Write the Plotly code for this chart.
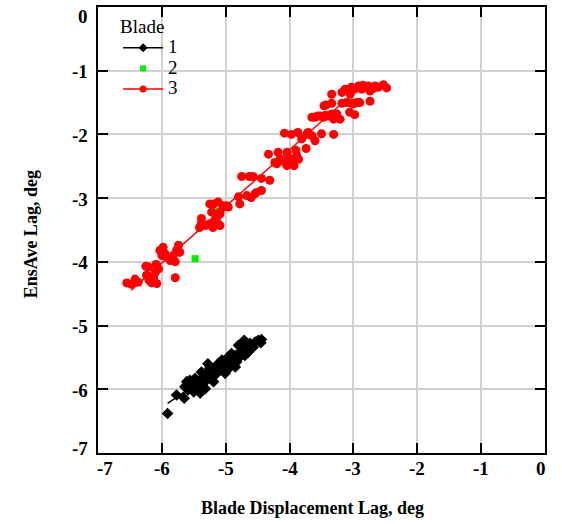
import numpy as np
import plotly.graph_objects as go

# Blade 1: displacement lag vs ensemble-average lag (deg)
blade1_x = [-5.91, -5.77, -5.65, -5.59, -5.61, -5.53, -5.48, -5.45, -5.40, -5.38,
            -5.32, -5.35, -5.30, -5.27, -5.28, -5.22, -5.19, -5.17, -5.14, -5.12,
            -5.09, -5.04, -5.01, -4.98, -4.96, -4.93, -4.88, -4.85, -4.83, -4.80,
            -4.75, -4.71, -4.70, -4.67, -4.62, -4.54, -4.49, -4.44, -4.45, -4.57,
            -5.43, -5.50, -5.56, -5.64, -5.06, -4.91, -4.78, -5.01, -5.25, -5.38,
            -4.85, -5.46, -5.20, -5.10, -4.95, -5.58, -5.33, -4.65]
blade1_y = [-6.38, -6.09, -6.14, -6.01, -5.88, -5.93, -5.83, -5.96, -6.06, -5.91,
            -5.99, -5.80, -5.86, -5.73, -5.60, -5.80, -5.88, -5.67, -5.75, -5.60,
            -5.70, -5.65, -5.57, -5.70, -5.49, -5.62, -5.54, -5.47, -5.57, -5.31,
            -5.39, -5.23, -5.47, -5.36, -5.28, -5.26, -5.23, -5.22, -5.27, -5.34,
            -5.91, -6.04, -5.86, -5.96, -5.54, -5.44, -5.49, -5.75, -5.67, -5.73,
            -5.65, -5.88, -5.72, -5.66, -5.58, -5.95, -5.82, -5.42]

# Blade 2
blade2_x = [-5.48, -5.15]
blade2_y = [-3.95, -3.20]

# Blade 3
blade3_x = [-6.48, -6.42, -6.37, -6.24, -6.20, -6.16, -6.13, -6.08, -6.10, -6.21,
            -6.25, -6.09, -6.05, -6.03, -5.98, -5.95, -5.92, -5.87, -5.82, -5.79,
            -5.77, -5.74, -5.72, -5.79, -5.38, -5.41, -5.32, -5.25, -5.20, -5.17,
            -5.12, -5.14, -5.09, -5.22, -5.25, -5.04, -4.98, -5.09, -6.00, -6.55,
            -5.38, -5.19, -5.12, -5.04, -4.96, -5.09, -5.14, -4.78, -4.80, -4.67,
            -4.60, -4.54, -4.52, -4.44, -4.75, -4.63, -4.57, -4.44, -4.31, -4.33,
            -4.23, -4.20, -4.18, -4.15, -4.07, -4.04, -4.02, -4.04, -3.98, -3.90,
            -3.89, -3.86, -3.93, -3.74, -4.08, -3.97, -3.87, -3.81, -3.73, -3.71,
            -3.65, -3.60, -3.50, -3.31, -3.65, -3.60, -3.52, -3.47, -3.39, -3.34,
            -3.26, -3.21, -3.31, -3.06, -2.98, -3.43, -3.34, -3.18, -3.11, -3.03,
            -2.95, -2.90, -2.74, -3.34, -3.18, -3.13, -3.07, -3.03, -2.98, -2.92,
            -2.87, -2.82, -2.77, -2.71, -2.74, -2.66, -2.61, -2.53, -2.48, -3.05,
            -3.46, -3.08, -2.85, -3.56, -3.44, -3.00, -2.80, -2.69]
blade3_y = [-4.35, -4.27, -4.32, -4.21, -4.29, -4.33, -4.25, -4.34, -4.16, -4.08,
            -4.07, -4.04, -4.11, -3.82, -3.77, -3.87, -3.93, -3.98, -3.90, -4.00,
            -3.82, -3.74, -3.85, -4.25, -3.39, -3.46, -3.43, -3.40, -3.46, -3.35,
            -3.40, -3.30, -3.25, -3.22, -3.09, -3.14, -3.12, -3.43, -3.90, -4.33,
            -3.32, -3.09, -3.06, -3.12, -3.14, -3.22, -3.27, -3.09, -2.98, -2.96,
            -2.99, -2.93, -2.91, -2.88, -2.66, -2.66, -2.66, -2.69, -2.72, -2.31,
            -2.44, -2.46, -2.28, -2.39, -2.44, -2.49, -2.36, -2.28, -2.41, -2.25,
            -2.33, -2.39, -2.49, -2.22, -1.98, -2.00, -1.97, -2.07, -2.00, -1.97,
            -2.02, -2.10, -1.99, -2.00, -1.73, -1.73, -1.71, -1.73, -1.71, -1.68,
            -1.68, -1.76, -1.76, -1.65, -1.69, -1.54, -1.51, -1.51, -1.50, -1.51,
            -1.50, -1.50, -1.48, -1.37, -1.34, -1.29, -1.32, -1.26, -1.29, -1.24,
            -1.29, -1.26, -1.24, -1.26, -1.32, -1.24, -1.26, -1.22, -1.27, -1.37,
            -1.55, -1.30, -1.23, -1.71, -1.70, -1.52, -1.25, -1.28]

# Linear trend for blade 3: slope, intercept and x extent of the drawn segment
blade3_trend = (0.888, 1.310)
blade3_trend_x = [-6.48, -3.00]

tick_vals = [-7, -6, -5, -4, -3, -2, -1, 0]
tick_text = ["-7", "-6", "-5", "-4", "-3", "-2", "-1", "0"]

SERIF = "Liberation Serif"
LEG = '<span style="font-size:19px">{}</span>'
TICK_SIZE = 19

fig = go.Figure()


def trend_line(xs, ys, params=None, xr=None):
    if params is None:
        slope, icpt = np.polyfit(np.array(xs), np.array(ys), 1)
    else:
        slope, icpt = params
    fx = np.array(xr if xr is not None else [min(xs), max(xs)])
    return fx, slope * fx + icpt


series = [
    ("1", blade1_x, blade1_y, "black", "diamond", 9, "fit"),
    ("2", blade2_x, blade2_y, "#00ee00", "square", 7, None),
    ("3", blade3_x, blade3_y, "#ff0000", "circle", 9, "trend"),
]

for name, xs, ys, color, symbol, size, line_kind in series:
    if line_kind == "fit":
        fx, fy = trend_line(xs, ys)
    elif line_kind == "trend":
        fx, fy = trend_line(xs, ys, blade3_trend, blade3_trend_x)
    if line_kind:
        fig.add_trace(go.Scatter(x=fx, y=fy, mode="lines",
                                 line=dict(color=color, width=1.5),
                                 showlegend=False, hoverinfo="skip"))
    fig.add_trace(go.Scatter(x=xs, y=ys, mode="markers", name=name,
                             marker=dict(color=color, symbol=symbol, size=size,
                                         line=dict(width=0)),
                             showlegend=False))
    # legend entry
    fig.add_trace(go.Scatter(x=[None], y=[None],
                             mode="lines+markers" if line_kind else "markers",
                             name=LEG.format(name),
                             line=dict(color=color, width=1.5),
                             marker=dict(color=color, symbol=symbol,
                                         size=7 if symbol != "square" else 6)))

axis_common = dict(
    range=[-7, 0], tickmode="array", tickvals=tick_vals, showticklabels=False,
    showline=True, linecolor="black", linewidth=1.5, mirror="ticks",
    ticks="inside", ticklen=10, tickwidth=2, tickcolor="black",
    showgrid=True, gridcolor="#d0d0d0", gridwidth=1.5, zeroline=False,
    automargin=False,
)

tick_font = dict(family=SERIF, size=TICK_SIZE, color="black", weight="bold")
title_font = dict(family=SERIF, size=18, color="black", weight="bold")

# Tick labels, placed at the tick values; the end labels of each axis are
# nudged inward so they stay inside the frame.
n = len(tick_vals)
tick_labels = []
for i, (v, t) in enumerate(zip(tick_vals, tick_text)):
    xs_shift = 7 if i == 0 else (-4 if i == n - 1 else 0)
    tick_labels.append(dict(text=t, xref="x", x=v, yref="paper", y=0,
                            xanchor="center", yanchor="middle",
                            xshift=xs_shift, yshift=-15))
    ys_shift = 5 if i == 0 else (-9 if i == n - 1 else -1)
    tick_labels.append(dict(text=t, xref="paper", x=0, yref="y", y=v,
                            xanchor="right", yanchor="middle",
                            xshift=-8, yshift=ys_shift))
for a in tick_labels:
    a.update(showarrow=False, font=tick_font)

fig.update_layout(
    width=562, height=524,
    margin=dict(l=98, r=17, t=7, b=71, autoexpand=False),
    font=dict(family=SERIF, color="black"),
    paper_bgcolor="white", plot_bgcolor="white",
    xaxis=dict(**axis_common),
    yaxis=dict(**axis_common),
    annotations=tick_labels + [
        dict(text="Blade Displacement Lag, deg", xref="paper", yref="paper",
             x=0.479, y=-0.123, xanchor="center", yanchor="middle",
             showarrow=False, font=title_font),
        dict(text="EnsAve Lag, deg", xref="paper", yref="paper",
             x=-0.148, y=0.49, xanchor="center", yanchor="middle",
             textangle=-90, showarrow=False, font=title_font),
    ],
    legend=dict(x=0.045, y=1.02, xanchor="left", yanchor="top",
                bgcolor="rgba(0,0,0,0)", borderwidth=0,
                title=dict(text='<span style="font-size:19px">Blade</span>',
                           font=dict(family=SERIF, size=26.5, color="black")),
                font=dict(family=SERIF, size=13.5, color="black"),
                itemwidth=40),
    showlegend=True,
)

fig.write_html("out.html")
